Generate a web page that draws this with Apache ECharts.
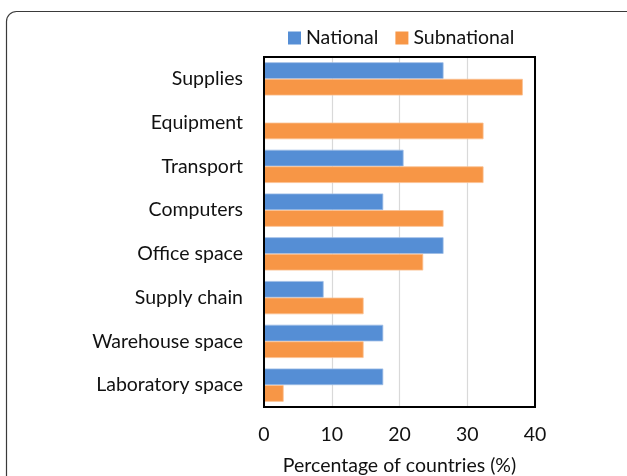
<!DOCTYPE html>
<html>
<head>
<meta charset="utf-8">
<script src="https://cdn.jsdelivr.net/npm/echarts@6/dist/echarts.min.js"></script>
<style>
  html, body { margin: 0; padding: 0; background: #fff; }
  #chart { width: 627px; height: 476px; }
</style>
</head>
<body>
<div id="chart"></div>
<script>
// categories top to bottom
const categories = ['Supplies', 'Equipment', 'Transport', 'Computers', 'Office space',
    'Supply chain', 'Warehouse space', 'Laboratory space'];
const nationalValues = [26.5, 0, 20.6, 17.6, 26.5, 8.8, 17.6, 17.6];
const subnationalValues = [38.2, 32.4, 32.4, 26.5, 23.5, 14.7, 14.7, 2.9];
const xTicks = [0, 10, 20, 30, 40];

const FONT = 'Lato, "Open Sans", sans-serif';
const FS = 19.5;
const TXT = '#111';

const chartDom = document.getElementById('chart');
const myChart = echarts.init(chartDom, null, { renderer: 'canvas' });

// zero-length bars get no outline
const barData = (vals, border) => vals.map(v => ({
    value: v,
    itemStyle: v === 0 ? { borderWidth: 0 } : { borderColor: border }
}));

const option = {
    animation: false,
    textStyle: { fontFamily: FONT },
    graphic: [{
        type: 'rect',
        shape: { x: 6.5, y: 11.5, width: 640, height: 500, r: 10 },
        style: { fill: 'none', stroke: '#3a3a3a', lineWidth: 1.2 },
        silent: true,
        z: -1
    }],
    legend: {
        top: 23,
        left: 283,
        itemWidth: 13,
        itemHeight: 13,
        itemGap: 17,
        textStyle: { fontFamily: FONT, fontSize: FS, color: TXT },
        data: [
            { name: 'National', icon: 'rect' },
            { name: 'Subnational', icon: 'rect' }
        ]
    },
    grid: {
        left: 264,
        right: 92,
        top: 57,
        bottom: 69,
        outerBoundsMode: 'none',   // keep plot box fixed, don't shrink for labels
        containLabel: false,
        show: true,
        borderColor: '#000',
        borderWidth: 2,
        z: 5
    },
    xAxis: [{
        type: 'value',
        min: xTicks[0],
        max: xTicks[xTicks.length - 1],
        interval: 10,
        name: 'Percentage of countries (%)',
        nameLocation: 'middle',
        nameGap: 49,
        nameTextStyle: { fontFamily: FONT, fontSize: FS, color: TXT },
        axisLine: { show: true, lineStyle: { color: '#000', width: 2 } },
        axisTick: { show: false },
        axisLabel: { fontFamily: FONT, fontSize: FS, color: TXT, margin: 18 },
        splitLine: { lineStyle: { color: '#d9d9d9', width: 1.2 } }
    }, {
        type: 'value',
        position: 'top',
        min: xTicks[0],
        max: xTicks[xTicks.length - 1],
        interval: 10,
        axisLine: { show: true, lineStyle: { color: '#000', width: 2 } },
        axisTick: { show: false },
        axisLabel: { show: false },
        splitLine: { show: false }
    }],
    yAxis: [{
        type: 'category',
        data: categories,
        inverse: true,
        axisLine: { show: true, lineStyle: { color: '#000', width: 2 } },
        axisTick: { show: false },
        axisLabel: { fontFamily: FONT, fontSize: FS, color: TXT, margin: 21 }
    }, {
        type: 'category',
        data: categories,
        inverse: true,
        position: 'right',
        axisLine: { show: true, lineStyle: { color: '#000', width: 2 } },
        axisTick: { show: false },
        axisLabel: { show: false }
    }],
    series: [
        {
            name: 'National',
            type: 'bar',
            data: barData(nationalValues, '#9dbde6'),
            barGap: '0%',
            barCategoryGap: '24%',
            itemStyle: { color: '#558ED5', borderWidth: 0.8 }
        },
        {
            name: 'Subnational',
            type: 'bar',
            data: barData(subnationalValues, '#fbc090'),
            itemStyle: { color: '#F79646', borderWidth: 0.8 }
        }
    ]
};

myChart.setOption(option, true);
</script>
</body>
</html>
